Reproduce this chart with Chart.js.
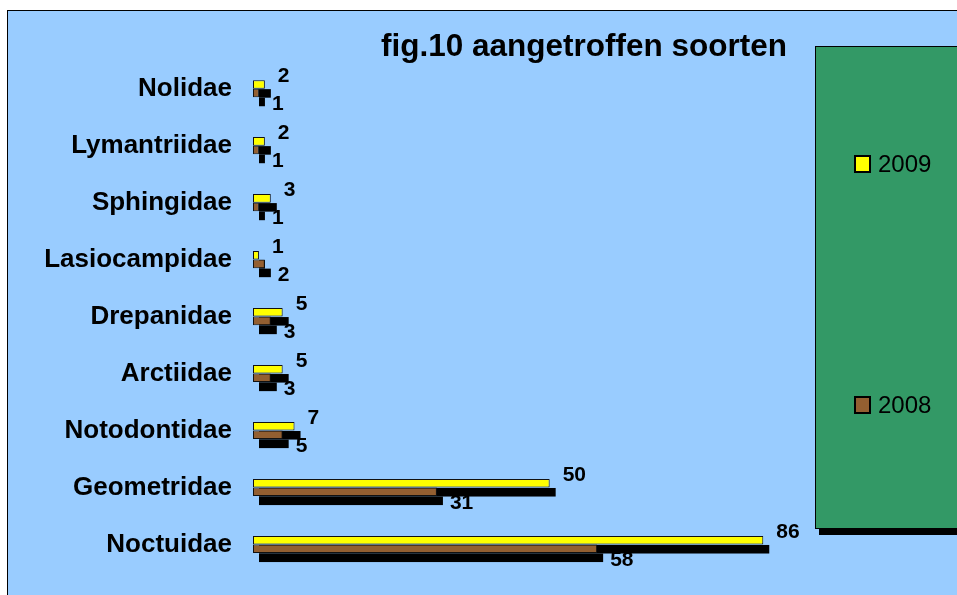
<!DOCTYPE html>
<html>
<head>
<meta charset="utf-8">
<script src="https://cdn.jsdelivr.net/npm/chart.js@4.4.1/dist/chart.umd.min.js"></script>
<style>
html, body { margin: 0; padding: 0; background: #fff; overflow: hidden; width: 957px; height: 595px; }
#frame { position: absolute; left: 7px; top: 10px; width: 980px; height: 600px; border: 1px solid #000; background: #99ccff; }
#wrap { position: absolute; left: 0; top: 0; width: 949px; height: 584px; }
</style>
</head>
<body>
<div id="frame"><div id="wrap"><canvas id="chart"></canvas></div></div>
<script>
// Data
const families = ['Nolidae', 'Lymantriidae', 'Sphingidae', 'Lasiocampidae', 'Drepanidae', 'Arctiidae', 'Notodontidae', 'Geometridae', 'Noctuidae'];
const counts2009 = [2, 2, 3, 1, 5, 5, 7, 50, 86];
const counts2008 = [1, 1, 1, 2, 3, 3, 5, 31, 58];

Chart.defaults.font.family = '"Liberation Sans", Arial, sans-serif';
Chart.defaults.color = '#000';

// black drop shadow behind every bar
const barShadow = {
    id: 'barShadow',
    beforeDatasetsDraw(chart) {
        const ctx = chart.ctx;
        ctx.save();
        ctx.fillStyle = '#000';
        chart.data.datasets.forEach((ds, i) => {
            chart.getDatasetMeta(i).data.forEach(bar => {
                const p = bar.getProps(['x', 'y', 'base', 'height'], true);
                const x0 = Math.min(p.base, p.x), x1 = Math.max(p.base, p.x);
                ctx.fillRect(x0 + 6, p.y - p.height / 2 + 9, x1 - x0, p.height);
            });
        });
        ctx.restore();
    }
};

// value labels next to the bar ends
const valueLabels = {
    id: 'valueLabels',
    afterDatasetsDraw(chart) {
        const ctx = chart.ctx;
        ctx.save();
        ctx.font = 'bold 21px "Liberation Sans", Arial, sans-serif';
        ctx.fillStyle = '#000';
        ctx.textAlign = 'left';
        ctx.textBaseline = 'middle';
        chart.data.datasets.forEach((ds, i) => {
            const dx = 13;
            const dy = i === 0 ? -8 : 11;
            chart.getDatasetMeta(i).data.forEach((bar, j) => {
                ctx.fillText(ds.data[j], bar.x + dx, bar.y + dy);
            });
        });
        ctx.restore();
    }
};

// green legend panel on the right
const legendPanel = {
    id: 'legendPanel',
    afterDraw(chart) {
        const ctx = chart.ctx;
        const left = chart.chartArea.right + 28;
        const top = 35, bottom = 517;
        const h = bottom - top;
        ctx.save();
        ctx.fillStyle = '#000';
        ctx.fillRect(left + 4, bottom, chart.width, 7);
        ctx.fillStyle = '#339966';
        ctx.fillRect(left, top, chart.width, h);
        ctx.strokeStyle = '#000';
        ctx.lineWidth = 1;
        ctx.strokeRect(left + 0.5, top + 0.5, chart.width, h);
        ctx.font = '24px "Liberation Sans", Arial, sans-serif';
        ctx.textBaseline = 'middle';
        chart.data.datasets.forEach((ds, i) => {
            const cy = Math.round(top + h * (i * 2 + 1) / 4 - 3);
            ctx.fillStyle = ds.backgroundColor;
            ctx.fillRect(left + 40, cy - 8, 15, 16);
            ctx.lineWidth = 2;
            ctx.strokeRect(left + 40, cy - 8, 15, 16);
            ctx.fillStyle = '#000';
            ctx.fillText(ds.label, left + 63, cy + 1);
        });
        ctx.restore();
    }
};

new Chart(document.getElementById('chart').getContext('2d'), {
    type: 'bar',
    data: {
        labels: families,
        datasets: [
            { label: '2009', data: counts2009, backgroundColor: '#ffff00', borderColor: '#111', borderWidth: 1, borderSkipped: false },
            { label: '2008', data: counts2008, backgroundColor: '#935f31', borderColor: '#111', borderWidth: 1, borderSkipped: false }
        ]
    },
    options: {
        indexAxis: 'y',
        responsive: true,
        maintainAspectRatio: false,
        animation: false,
        datasets: { bar: { categoryPercentage: 0.3, barPercentage: 1.0 } },
        layout: { padding: { left: 0, top: 0, right: 170, bottom: 22 } },
        plugins: {
            legend: { display: false },
            tooltip: { enabled: false },
            title: {
                display: true,
                text: 'fig.10 aangetroffen soorten',
                align: 'end',
                fullSize: false,
                color: '#000',
                font: { size: 31.5, weight: 'bold', lineHeight: 0.8 },
                padding: { top: 24, bottom: 0 }
            }
        },
        scales: {
            x: { display: false, min: 0, max: 90 },
            y: {
                grid: { display: false, drawTicks: false },
                border: { display: false },
                ticks: { padding: 21, color: '#000', font: { size: 26, weight: 'bold' } },
                afterFit(scale) {
                    scale.width = 245;
                    scale.paddingTop = 0;
                    scale.paddingBottom = 0;
                }
            }
        }
    },
    plugins: [barShadow, valueLabels, legendPanel]
});
</script>
</body>
</html>
